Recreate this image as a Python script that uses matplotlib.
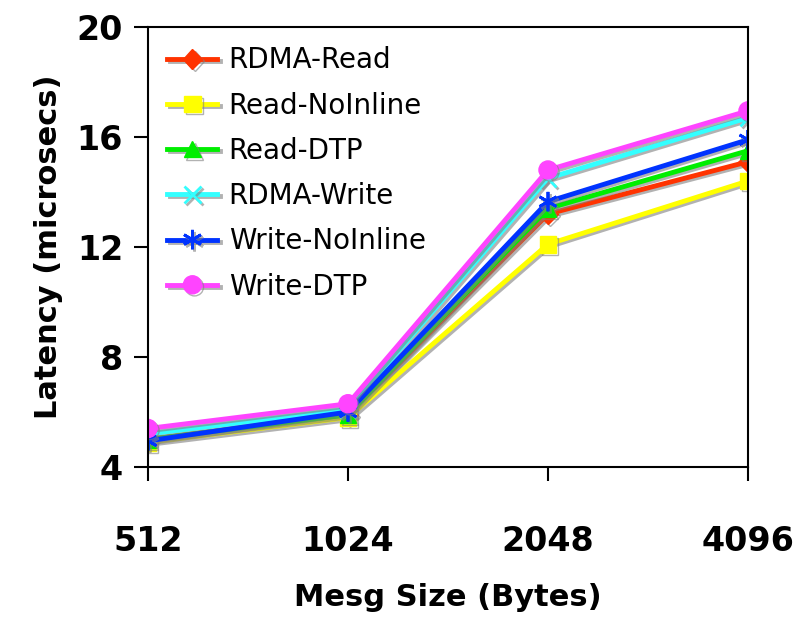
import matplotlib
matplotlib.use("Agg")
import matplotlib.pyplot as plt
import matplotlib.patheffects as pe

sizes = ["512", "1024", "2048", "4096"]
rdma_read = [5.0, 5.9, 13.2, 15.1]
read_noinline = [4.9, 5.8, 12.1, 14.4]
read_dtp = [5.0, 5.9, 13.4, 15.5]
rdma_write = [5.2, 6.1, 14.5, 16.7]
write_noinline = [4.95, 6.0, 13.65, 15.9]
write_dtp = [5.4, 6.3, 14.8, 16.95]

series = [
    ("RDMA-Read", rdma_read, "#FF3300", "D", 10),
    ("Read-NoInline", read_noinline, "#FFFF00", "s", 12),
    ("Read-DTP", read_dtp, "#00EE00", "^", 12),
    ("RDMA-Write", rdma_write, "#33FFFF", "x", 12),
    ("Write-NoInline", write_noinline, "#0033FF", (6, 2, 0), 14),
    ("Write-DTP", write_dtp, "#FF44FF", "o", 13),
]

fig = plt.figure(figsize=(8.01, 6.26), dpi=100)
ax = fig.add_axes([0.1848, 0.254, 0.749, 0.7029])
x = list(range(len(sizes)))
for name, vals, col, mk, ms in series:
    mew = 2 if mk in ("x",) or isinstance(mk, tuple) else 1
    ax.plot(x, vals, color=col, lw=3.5, marker=mk, markersize=ms,
            markeredgecolor=col, markeredgewidth=mew, label=name,
            path_effects=[pe.SimpleLineShadow(offset=(1.5, -1.5), shadow_color="gray", alpha=0.6), pe.Normal()])

ax.set_xlim(0, 3)
ax.set_ylim(4, 20)
ax.set_xticks(x)
ax.set_xticklabels(sizes)
ax.set_yticks([4, 8, 12, 16, 20])
ax.tick_params(axis="y", direction="out", length=10, width=1.5, labelsize=24, pad=8)
ax.tick_params(axis="x", direction="out", length=10, width=1.5, labelsize=24, pad=32)
for lab in ax.get_xticklabels() + ax.get_yticklabels():
    lab.set_fontweight("bold")
for s in ax.spines.values():
    s.set_linewidth(1.5)
ax.set_xlabel("Mesg Size (Bytes)", fontsize=22, fontweight="bold", labelpad=18)
ax.set_ylabel("Latency (microsecs)", fontsize=22, fontweight="bold", labelpad=10)
leg = ax.legend(loc="upper left", frameon=False, fontsize=20, handlelength=1.8,
                labelspacing=0.62, borderaxespad=0.3, handletextpad=0.4)
fig.savefig("out.png", dpi=100)
